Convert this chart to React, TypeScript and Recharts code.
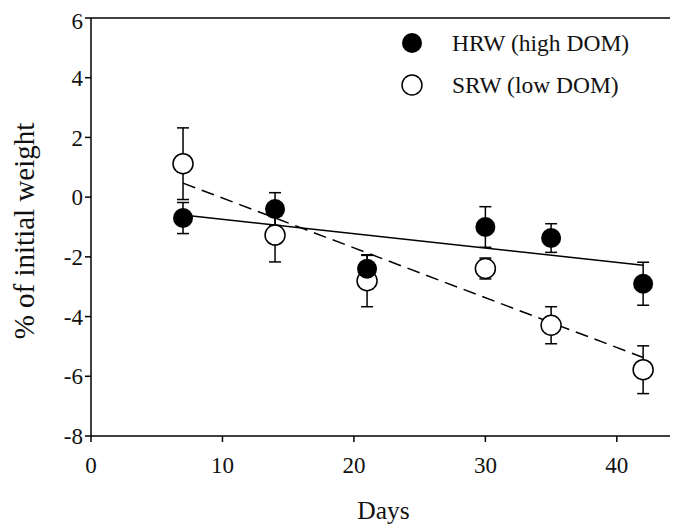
import React from 'react';
import { ComposedChart, Scatter, XAxis, YAxis, ErrorBar, ReferenceLine, Label } from 'recharts';

const days = [7, 14, 21, 30, 35, 42];
const hrwMean = [-0.7, -0.4, -2.4, -1.0, -1.37, -2.9];
const hrwErr = [0.52, 0.55, 0.45, 0.68, 0.48, 0.72];
const srwMean = [1.12, -1.27, -2.8, -2.39, -4.29, -5.78];
const srwErr = [1.2, 0.9, 0.87, 0.35, 0.62, 0.8];
const fitDays = [7, 42];
const hrwFit = [-0.6, -2.28];
const srwFit = [0.47, -5.37];
const xTicks = [0, 10, 20, 30, 40];
const yTicks = [-8, -6, -4, -2, 0, 2, 4, 6];

const hrwData = days.map((d, i) => ({ x: d, y: hrwMean[i], err: hrwErr[i] }));
const srwData = days.map((d, i) => ({ x: d, y: srwMean[i], err: srwErr[i] }));
const hrwLine = fitDays.map((d, i) => ({ x: d, y: hrwFit[i] }));
const srwLine = fitDays.map((d, i) => ({ x: d, y: srwFit[i] }));

const font = 'Liberation Serif, DejaVu Serif, serif';
const tickStyle = { fill: '#111', fontSize: 23, fontFamily: font };

const FilledDot = (p: any) => <circle cx={p.cx} cy={p.cy} r={10} fill="#000" />;
const OpenDot = (p: any) => <circle cx={p.cx} cy={p.cy} r={10} fill="#fff" stroke="#000" strokeWidth={1.5} />;
const NoDot = () => <g />;

const LegendBox = () => (
  <div style={{ position: 'absolute', top: 14, left: 392, fontFamily: font, fontSize: 23.5, color: '#111', lineHeight: '24px' }}>
    <div style={{ display: 'flex', alignItems: 'center', height: 42 }}>
      <svg width={52} height={24}><circle cx={12} cy={12} r={10} fill="#000" /></svg>
      <span>HRW (high DOM)</span>
    </div>
    <div style={{ display: 'flex', alignItems: 'center', height: 42 }}>
      <svg width={52} height={24}><circle cx={12} cy={12} r={10} fill="#fff" stroke="#000" strokeWidth={1.5} /></svg>
      <span>SRW (low DOM)</span>
    </div>
  </div>
);

export default function App() {
  return (
    <div style={{ position: 'relative', width: 670, height: 517 }}>
      <ComposedChart width={670} height={517} margin={{ top: 10, right: 2, left: 0, bottom: 0 }}>
        <XAxis
          dataKey="x"
          type="number"
          domain={[0, 44.5]}
          ticks={xTicks}
          tick={tickStyle}
          tickSize={6}
          tickMargin={15}
          axisLine={{ stroke: '#000', strokeWidth: 1.5 }}
          tickLine={{ stroke: '#000', strokeWidth: 1.5 }}
          height={89}
          allowDataOverflow
        >
          <Label value="Days" position="insideBottom" offset={6} style={{ fill: '#111', fontSize: 25.5, fontFamily: font }} />
        </XAxis>
        <YAxis
          dataKey="y"
          type="number"
          domain={[-8, 6]}
          ticks={yTicks}
          tick={tickStyle}
          tickSize={6}
          tickMargin={2}
          axisLine={{ stroke: '#000', strokeWidth: 1.5 }}
          tickLine={{ stroke: '#000', strokeWidth: 1.5 }}
          width={83}
        >
          <Label value="% of initial weight" angle={-90} position="insideLeft" offset={16} dy={4} style={{ fill: '#111', fontSize: 29, fontFamily: font, textAnchor: 'middle' }} />
        </YAxis>
        <ReferenceLine y={6} stroke="#000" strokeWidth={1.5} />
        <Scatter data={hrwLine} line={{ stroke: '#000', strokeWidth: 1.5 }} shape={NoDot} isAnimationActive={false} legendType="none" />
        <Scatter data={srwLine} line={{ stroke: '#000', strokeWidth: 1.5, strokeDasharray: '13 7' }} shape={NoDot} isAnimationActive={false} legendType="none" />
        <Scatter data={srwData} shape={OpenDot} isAnimationActive={false}>
          <ErrorBar dataKey="err" direction="y" width={6} stroke="#000" strokeWidth={1.5} />
        </Scatter>
        <Scatter data={hrwData} shape={FilledDot} isAnimationActive={false}>
          <ErrorBar dataKey="err" direction="y" width={6} stroke="#000" strokeWidth={1.5} />
        </Scatter>
      </ComposedChart>
      <LegendBox />
    </div>
  );
}
